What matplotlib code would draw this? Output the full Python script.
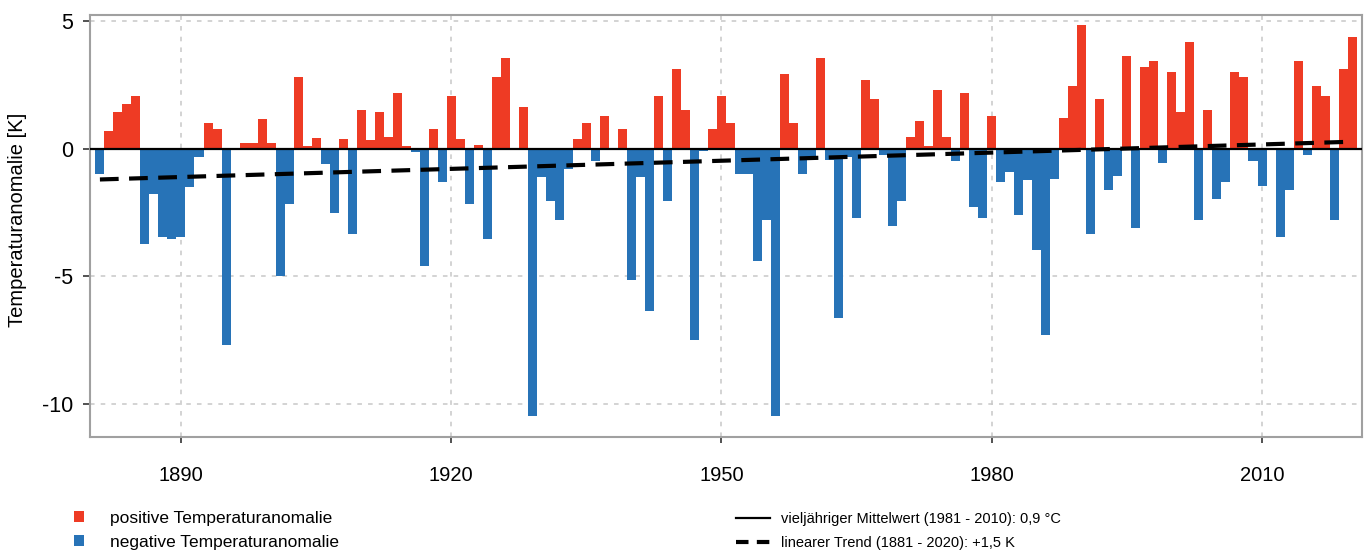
import matplotlib
matplotlib.use("Agg")
import matplotlib.pyplot as plt
from matplotlib.patches import Patch
from matplotlib.lines import Line2D
import numpy as np

# --- Stil ---
plt.rcParams.update({
    "font.family": ["Liberation Sans", "DejaVu Sans"],
    "font.size": 13,
    "axes.unicode_minus": False,
})

# Jahre 1881 - 2020, Temperaturanomalie (K) gegenueber 1981-2010
years = np.arange(1881, 2021)
anomaly = [
    -1.0, 0.7, 1.44, 1.74, 2.09, -3.75, -1.76, -3.46, -3.53, -3.46,     # 1881-1890
    -1.5, -0.33, 1.0, 0.78, -7.7, 0.0, 0.22, 0.22, 1.18, 0.22,          # 1891-1900
    -5.0, -2.16, 2.81, 0.1, 0.42, -0.6, -2.5, 0.4, -3.33, 1.53,         # 1901-1910
    0.33, 1.44, 0.48, 2.18, 0.13, -0.13, -4.6, 0.78, -1.3, 2.07,        # 1911-1920
    0.37, -2.16, 0.16, -3.53, 2.81, 3.56, 0.0, 1.66, -10.46, -1.1,      # 1921-1930
    -2.05, -2.8, -0.78, 0.37, 1.0, -0.48, 1.3, 0.0, 0.78, -5.16,        # 1931-1940
    -1.1, -6.34, 2.07, -2.05, 3.14, 1.53, -7.48, -0.1, 0.78, 2.07,      # 1941-1950
    1.0, -0.98, -0.98, -4.4, -2.8, -10.46, 2.92, 1.0, -1.0, -0.3,       # 1951-1960
    3.56, -0.45, -6.64, -0.3, -2.7, 2.7, 1.96, -0.26, -3.03, -2.05,     # 1961-1970
    0.48, 1.1, 0.13, 2.29, 0.48, -0.46, 2.18, -2.29, -2.7, 1.3,         # 1971-1980
    -1.3, -0.9, -2.6, -1.24, -3.95, -7.3, -1.18, 1.22, 2.48, 4.84,      # 1981-1990
    -3.33, 1.96, -1.63, -1.08, 3.66, -3.1, 3.23, 3.44, -0.56, 3.03,     # 1991-2000
    1.44, 4.2, -2.78, 1.53, -1.96, -1.3, 3.03, 2.81, -0.48, -1.44,      # 2001-2010
    0.0, -3.46, -1.63, 3.44, -0.26, 2.48, 2.07, -2.8, 3.14, 4.4,        # 2011-2020
]
anomaly = np.array(anomaly)

# linearer Trend (Endpunkte 1881 und 2020)
trend_years = [1881, 2020]
trend_values = [-1.2, 0.28]

xticks = [1890, 1920, 1950, 1980, 2010]
yticks = [5, 0, -5, -10]

col_pos = "#EE3B24"
col_neg = "#2773B7"

fig = plt.figure(figsize=(13.65, 5.51), dpi=100)
ax = fig.add_axes([90 / 1365, 1 - 437 / 551, 1272 / 1365, 422 / 551])

colors = np.where(anomaly >= 0, col_pos, col_neg)
ax.bar(years, anomaly, width=1.0, color=colors, linewidth=0, zorder=2)

ax.axhline(0, color="black", linewidth=1.6, zorder=3)
ax.plot(trend_years, trend_values, color="black", linewidth=3,
        linestyle=(0, (4.5, 2.5)), zorder=4)

ax.set_xlim(1879.9, 2021.1)
ax.set_ylim(-11.3, 5.25)
ax.set_xticks(xticks)
ax.set_yticks(yticks)
ax.tick_params(axis="x", length=4, width=1.2, pad=17, labelsize=14.5, color="#333333")
ax.tick_params(axis="y", length=5, width=1.2, pad=7, labelsize=15.5, color="#333333")
ax.grid(True, color="#c8c8c8", linestyle=(0, (3, 4)), linewidth=1.1, zorder=0)
ax.set_axisbelow(True)
for sp in ax.spines.values():
    sp.set_color("#a0a0a0")
    sp.set_linewidth(1.5)

fig.text(18 / 1365, 1 - 220 / 551, "Temperaturanomalie [K]", rotation=90,
         ha="center", va="center", fontsize=14.5)

# Legenden unten
h_left = [Patch(facecolor=col_pos, edgecolor="none"),
          Patch(facecolor=col_neg, edgecolor="none")]
leg1 = fig.legend(h_left, ["positive Temperaturanomalie", "negative Temperaturanomalie"],
                  loc="upper left", bbox_to_anchor=(74 / 1365, 1 - 511 / 551),
                  frameon=False, fontsize=12.5, handlelength=0.6, handleheight=0.6,
                  handletextpad=1.5, labelspacing=0.5, borderpad=0, borderaxespad=0)

h_right = [Line2D([], [], color="black", linewidth=1.6),
           Line2D([], [], color="black", linewidth=3, linestyle=(0, (3, 2)))]
leg2 = fig.legend(h_right, ["vieljähriger Mittelwert (1981 - 2010): 0,9 °C",
                            "linearer Trend (1881 - 2020): +1,5 K"],
                  loc="upper left", bbox_to_anchor=(736 / 1365, 1 - 512 / 551),
                  frameon=False, fontsize=10.5, handlelength=2.3,
                  handletextpad=0.8, labelspacing=0.7, borderpad=0, borderaxespad=0)

fig.savefig("out.png", dpi=100)
